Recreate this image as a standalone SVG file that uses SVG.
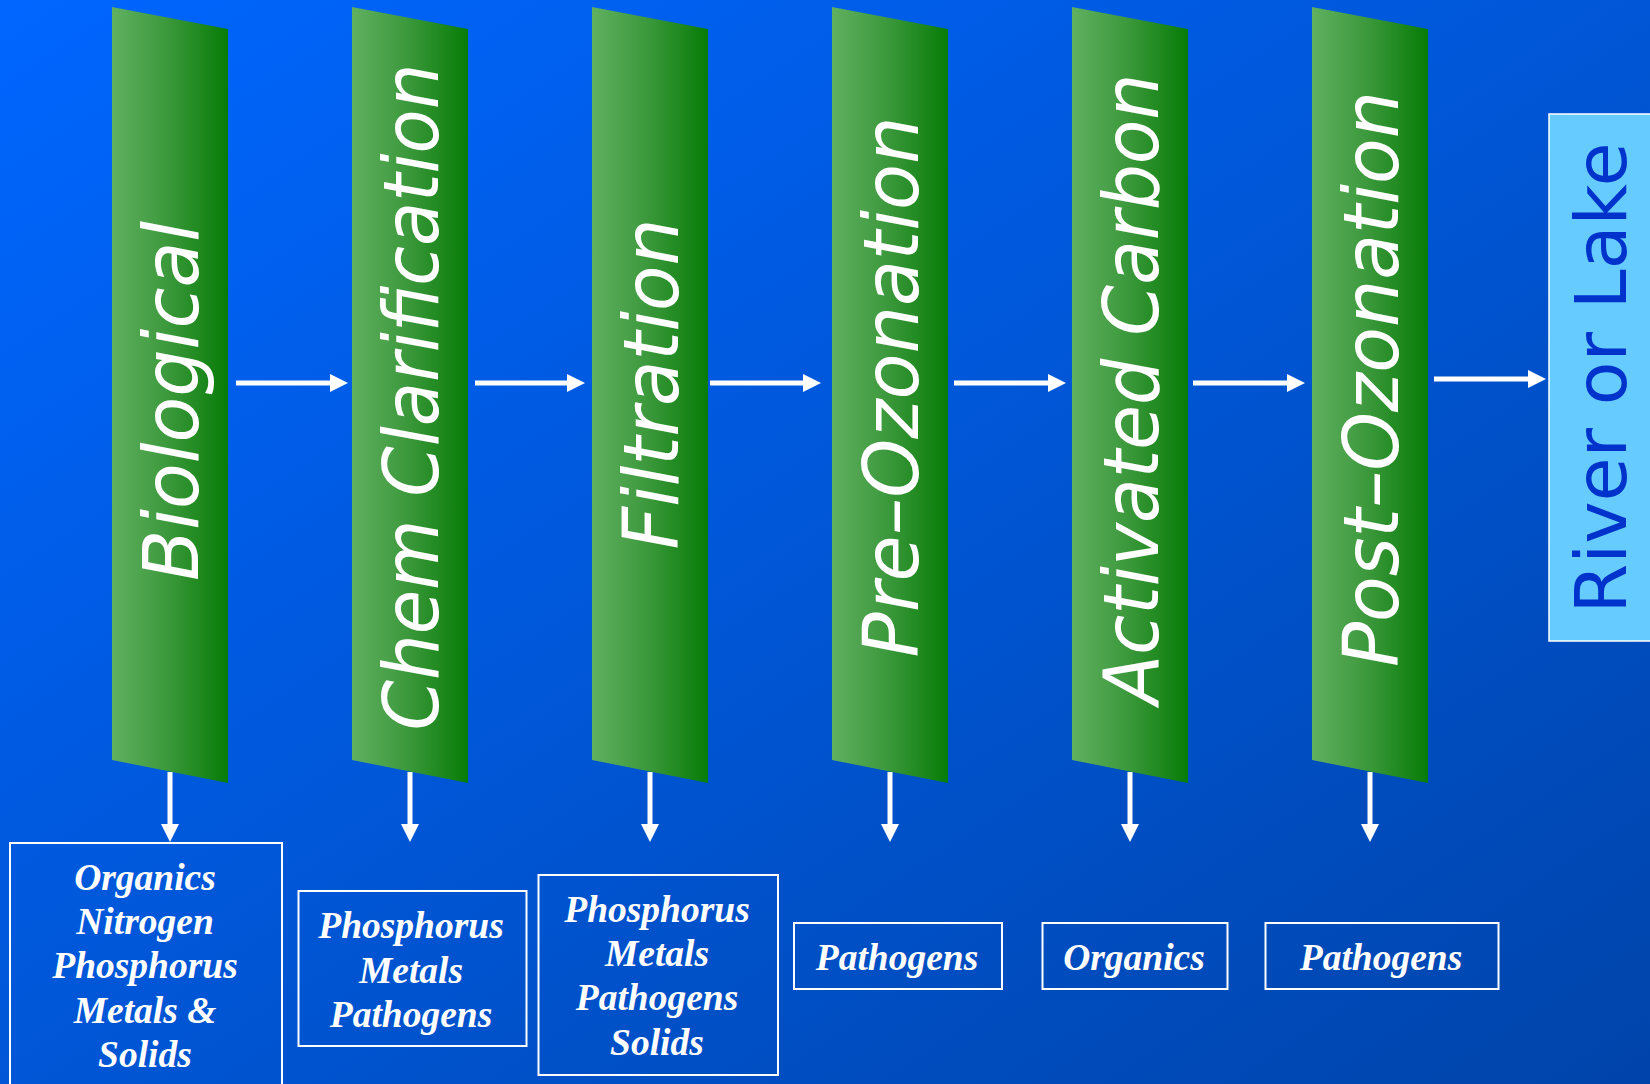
<svg xmlns="http://www.w3.org/2000/svg" width="1650" height="1084" viewBox="0 0 1650 1084">
  <defs>
    <linearGradient id="bg" x1="0" y1="0" x2="1" y2="1">
      <stop offset="0" stop-color="#0066FF"/>
      <stop offset="0.5" stop-color="#0056D6"/>
      <stop offset="1" stop-color="#0044AA"/>
    </linearGradient>
    <linearGradient id="green" x1="0" y1="0" x2="1" y2="0">
      <stop offset="0" stop-color="#60B060"/>
      <stop offset="0.45" stop-color="#3E9A3E"/>
      <stop offset="1" stop-color="#077C07"/>
    </linearGradient>
    <marker id="ah" markerUnits="userSpaceOnUse" markerWidth="18" markerHeight="18" refX="0" refY="9" orient="auto">
      <path d="M0,0 L18,9 L0,18 z" fill="#FFFFFF"/>
    </marker>
    <style>
      .band { fill: url(#green); }
      .btxt { font-family: "DejaVu Sans", "Verdana", sans-serif; font-style: italic; font-size: 77px; fill: #FFFFFF; text-anchor: middle; }
      .box { fill: none; stroke: #FFFFFF; stroke-width: 2; }
      .ltxt { font-family: "Liberation Serif", "Times New Roman", serif; font-style: italic; font-weight: bold; font-size: 37.5px; fill: #FFFFFF; text-anchor: middle; }
      .conn { stroke: #FFFFFF; stroke-width: 5; fill: none; marker-end: url(#ah); }
    </style>
  </defs>
  <rect x="0" y="0" width="1650" height="1084" fill="url(#bg)"/>

  <g id="stage-biological">
    <polygon class="band" points="112,7 228,29 228,783 112,760"/>
    <text class="btxt" transform="translate(198,401) rotate(-90)" textLength="360" lengthAdjust="spacingAndGlyphs">Biological</text>
  </g>
  <g id="stage-chem">
    <polygon class="band" points="352,7 468,29 468,783 352,760"/>
    <text class="btxt" transform="translate(438,397) rotate(-90)" textLength="667" lengthAdjust="spacingAndGlyphs">Chem Clarification</text>
  </g>
  <g id="stage-filtration">
    <polygon class="band" points="592,7 708,29 708,783 592,760"/>
    <text class="btxt" transform="translate(678,384) rotate(-90)" textLength="331" lengthAdjust="spacingAndGlyphs">Filtration</text>
  </g>
  <g id="stage-preozonation">
    <polygon class="band" points="832,7 948,29 948,783 832,760"/>
    <text class="btxt" transform="translate(918,387) rotate(-90)" textLength="541" lengthAdjust="spacingAndGlyphs">Pre–Ozonation</text>
  </g>
  <g id="stage-carbon">
    <polygon class="band" points="1072,7 1188,29 1188,783 1072,760"/>
    <text class="btxt" transform="translate(1158,389) rotate(-90)" textLength="631" lengthAdjust="spacingAndGlyphs">Activated Carbon</text>
  </g>
  <g id="stage-postozonation">
    <polygon class="band" points="1312,7 1428,29 1428,783 1312,760"/>
    <text class="btxt" transform="translate(1398,379) rotate(-90)" textLength="576" lengthAdjust="spacingAndGlyphs">Post–Ozonation</text>
  </g>
  <g id="river">
    <rect x="1549" y="114" width="110" height="527" fill="#66CCFF" stroke="#FFFFFF" stroke-width="1.5"/>
    <text transform="translate(1626,378) rotate(-90)" font-family="DejaVu Sans, Verdana, sans-serif" font-size="72" fill="#0033CC" text-anchor="middle" textLength="471" lengthAdjust="spacingAndGlyphs">River or Lake</text>
  </g>

  <g id="out-biological">
    <rect class="box" x="10" y="843" width="272" height="260"/>
    <text class="ltxt"><tspan x="145" y="890">Organics</tspan><tspan x="145" y="934">Nitrogen</tspan><tspan x="145" y="978">Phosphorus</tspan><tspan x="145" y="1023">Metals &amp;</tspan><tspan x="145" y="1067">Solids</tspan></text>
  </g>
  <g id="out-chem">
    <rect class="box" x="298.5" y="891" width="228" height="155"/>
    <text class="ltxt"><tspan x="411" y="938">Phosphorus</tspan><tspan x="411" y="983">Metals</tspan><tspan x="411" y="1027">Pathogens</tspan></text>
  </g>
  <g id="out-filtration">
    <rect class="box" x="538.5" y="875" width="239.5" height="200"/>
    <text class="ltxt"><tspan x="657" y="922">Phosphorus</tspan><tspan x="657" y="966">Metals</tspan><tspan x="657" y="1010">Pathogens</tspan><tspan x="657" y="1055">Solids</tspan></text>
  </g>
  <g id="out-preozonation">
    <rect class="box" x="794" y="923" width="208" height="66"/>
    <text class="ltxt" x="897" y="970">Pathogens</text>
  </g>
  <g id="out-carbon">
    <rect class="box" x="1042.5" y="923" width="185" height="66"/>
    <text class="ltxt" x="1134" y="970">Organics</text>
  </g>
  <g id="out-postozonation">
    <rect class="box" x="1265.5" y="923" width="233" height="66"/>
    <text class="ltxt" x="1381" y="970">Pathogens</text>
  </g>

  <g id="connectors">
    <line class="conn" x1="236" y1="383" x2="330" y2="383"/>
    <line class="conn" x1="475" y1="383" x2="567" y2="383"/>
    <line class="conn" x1="710" y1="383" x2="803" y2="383"/>
    <line class="conn" x1="954" y1="383" x2="1048" y2="383"/>
    <line class="conn" x1="1193" y1="383" x2="1287" y2="383"/>
    <line class="conn" x1="1434" y1="379" x2="1528" y2="379"/>
    <line class="conn" x1="170" y1="772" x2="170" y2="824"/>
    <line class="conn" x1="410" y1="772" x2="410" y2="824"/>
    <line class="conn" x1="650" y1="772" x2="650" y2="824"/>
    <line class="conn" x1="890" y1="772" x2="890" y2="824"/>
    <line class="conn" x1="1130" y1="772" x2="1130" y2="824"/>
    <line class="conn" x1="1370" y1="772" x2="1370" y2="824"/>
  </g>
</svg>
